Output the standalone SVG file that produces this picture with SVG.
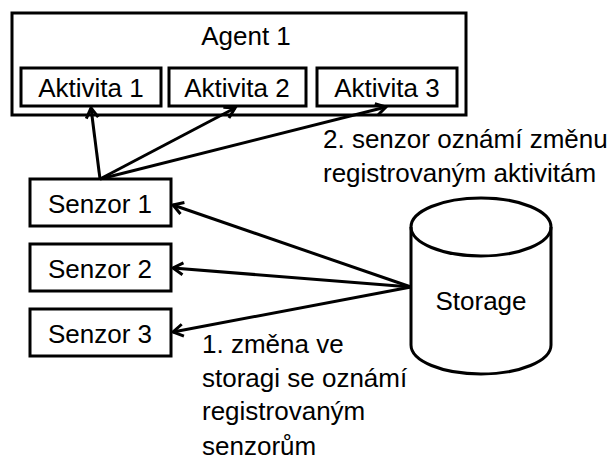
<svg xmlns="http://www.w3.org/2000/svg" width="615" height="463" viewBox="0 0 615 463">
<style>
.box{fill:#fff;stroke:#000;stroke-width:3}
.t{font-family:"Liberation Sans",Arial,sans-serif;font-size:26px;fill:#000}
.c{text-anchor:middle}
.e{fill:none;stroke:#000;stroke-width:3;marker-end:url(#arr)}
</style>
<defs>
<marker id="arr" markerUnits="userSpaceOnUse" markerWidth="16" markerHeight="16" refX="12" refY="8" orient="auto">
<path d="M2,2 L12,8 L2,14" fill="none" stroke="#000" stroke-width="3"/>
</marker>
</defs>
<g id="agent1">
<rect class="box" x="12" y="13" width="454" height="102"/>
<text class="t c" x="246" y="45">Agent 1</text>
</g>
<g id="aktivita1">
<rect class="box" x="21" y="68" width="140" height="38"/>
<text class="t c" x="91" y="97">Aktivita 1</text>
</g>
<g id="aktivita2">
<rect class="box" x="169" y="68" width="137" height="38"/>
<text class="t c" x="237" y="97">Aktivita 2</text>
</g>
<g id="aktivita3">
<rect class="box" x="317" y="68" width="140" height="38"/>
<text class="t c" x="387" y="97">Aktivita 3</text>
</g>
<g id="senzor1">
<rect class="box" x="30" y="179" width="141" height="47"/>
<text class="t c" x="100" y="213">Senzor 1</text>
</g>
<g id="senzor2">
<rect class="box" x="30" y="244" width="141" height="47"/>
<text class="t c" x="100" y="278">Senzor 2</text>
</g>
<g id="senzor3">
<rect class="box" x="30" y="309" width="141" height="47"/>
<text class="t c" x="100" y="343">Senzor 3</text>
</g>
<g id="storage">
<path d="M411,227 L411,345 A70,29 0 0 0 551,345 L551,227 A70,29 0 0 0 411,227 Z" fill="#fff" stroke="#000" stroke-width="3"/>
<path d="M411,227 A70,29 0 0 0 551,227" fill="none" stroke="#000" stroke-width="3"/>
<text class="t c" x="481" y="310">Storage</text>
</g>
<g id="connectors">
<line class="e" x1="100" y1="179" x2="91" y2="108"/>
<line class="e" x1="100" y1="179" x2="235" y2="108"/>
<line class="e" x1="100" y1="179" x2="386" y2="107"/>
<line class="e" x1="411" y1="287" x2="173" y2="205"/>
<line class="e" x1="411" y1="287" x2="173" y2="268"/>
<line class="e" x1="411" y1="287" x2="173" y2="332"/>
</g>
<g id="labels">
<text class="t" x="323" y="148">2. senzor oznámí změnu</text>
<text class="t" x="323" y="182">registrovaným aktivitám</text>
<text class="t" x="202" y="353">1. změna ve</text>
<text class="t" x="202" y="387">storagi se oznámí</text>
<text class="t" x="202" y="420">registrovaným</text>
<text class="t" x="202" y="455">senzorům</text>
</g>
</svg>
